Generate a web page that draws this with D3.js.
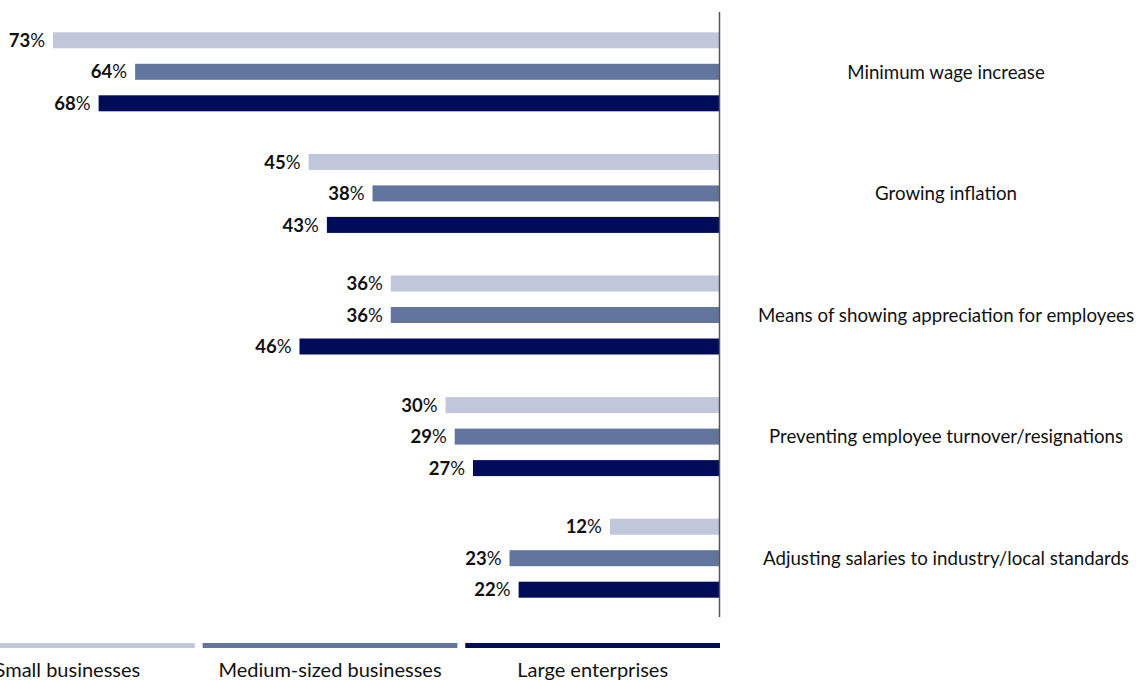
<!DOCTYPE html>
<html>
<head>
<meta charset="utf-8">
<script src="https://cdn.jsdelivr.net/npm/d3@7"></script>
<style>
  html, body { margin: 0; padding: 0; background: #fff; overflow: hidden; }
  svg { display: block; font-family: Lato, "Open Sans", sans-serif; }
</style>
</head>
<body>
<svg id="chart"></svg>
<script>
const categories = [
  'Minimum wage increase',
  'Growing inflation',
  'Means of showing appreciation for employees',
  'Preventing employee turnover/resignations',
  'Adjusting salaries to industry/local standards'
];
const seriesNames = ['Small businesses', 'Medium-sized businesses', 'Large enterprises'];
const small = [73, 45, 36, 30, 12];
const medium = [64, 38, 36, 29, 23];
const large = [68, 43, 46, 27, 22];
const colors = ['#c0c7da', '#62759f', '#000c58'];

const width = 1136, height = 680;
const axisX = 719.5;

const svg = d3.select('#chart').attr('width', width).attr('height', height);

const rows = [];
[small, medium, large].forEach((vals, s) => {
  vals.forEach((v, i) => rows.push({ cat: categories[i], series: seriesNames[s], value: v, s }));
});

const x = d3.scaleLinear().domain([0, 78.8]).range([axisX, 0]);
const y = d3.scaleBand().domain(categories).range([11, 619]);
const yInner = d3.scalePoint().domain(seriesNames).range([-31.5, 31.5]);
const barH = 16;

const cy = d => y(d.cat) + y.bandwidth() / 2 + yInner(d.series);

// bars
svg.append('g').selectAll('rect').data(rows).enter().append('rect')
  .attr('x', d => x(d.value))
  .attr('y', d => cy(d) - barH / 2)
  .attr('width', d => axisX - x(d.value))
  .attr('height', barH)
  .attr('fill', d => colors[d.s]);

// value labels, bold number + plain %
const lab = svg.append('g').selectAll('text').data(rows).enter().append('text')
  .attr('x', d => x(d.value) - 8)
  .attr('y', d => cy(d))
  .attr('dy', '0.36em')
  .attr('text-anchor', 'end')
  .style('font-size', '18.5px')
  .attr('fill', '#111');
lab.append('tspan').style('font-weight', 'bold').text(d => d.value);
lab.append('tspan').text('%');

// vertical axis line
svg.append('line')
  .attr('x1', axisX).attr('x2', axisX)
  .attr('y1', 12).attr('y2', 617)
  .attr('stroke', '#555').attr('stroke-width', 1.5);

// category labels
svg.append('g').selectAll('text').data(categories).enter().append('text')
  .attr('x', 946)
  .attr('y', d => y(d) + y.bandwidth() / 2)
  .attr('dy', '0.36em')
  .attr('text-anchor', 'middle')
  .style('font-size', '18.7px')
  .attr('fill', '#111')
  .text(d => d);

// legend
const lx = d3.scaleBand().domain(seriesNames).range([-60, 720]).paddingInner(0.03);
const leg = svg.append('g').selectAll('g').data(seriesNames).enter().append('g');
leg.append('rect')
  .attr('x', d => lx(d))
  .attr('y', 643)
  .attr('width', lx.bandwidth())
  .attr('height', 5)
  .attr('fill', (d, i) => colors[i]);
leg.append('text')
  .attr('x', d => lx(d) + lx.bandwidth() / 2)
  .attr('y', 677)
  .attr('text-anchor', 'middle')
  .style('font-size', '20px')
  .attr('fill', '#111')
  .text(d => d);
</script>
</body>
</html>
